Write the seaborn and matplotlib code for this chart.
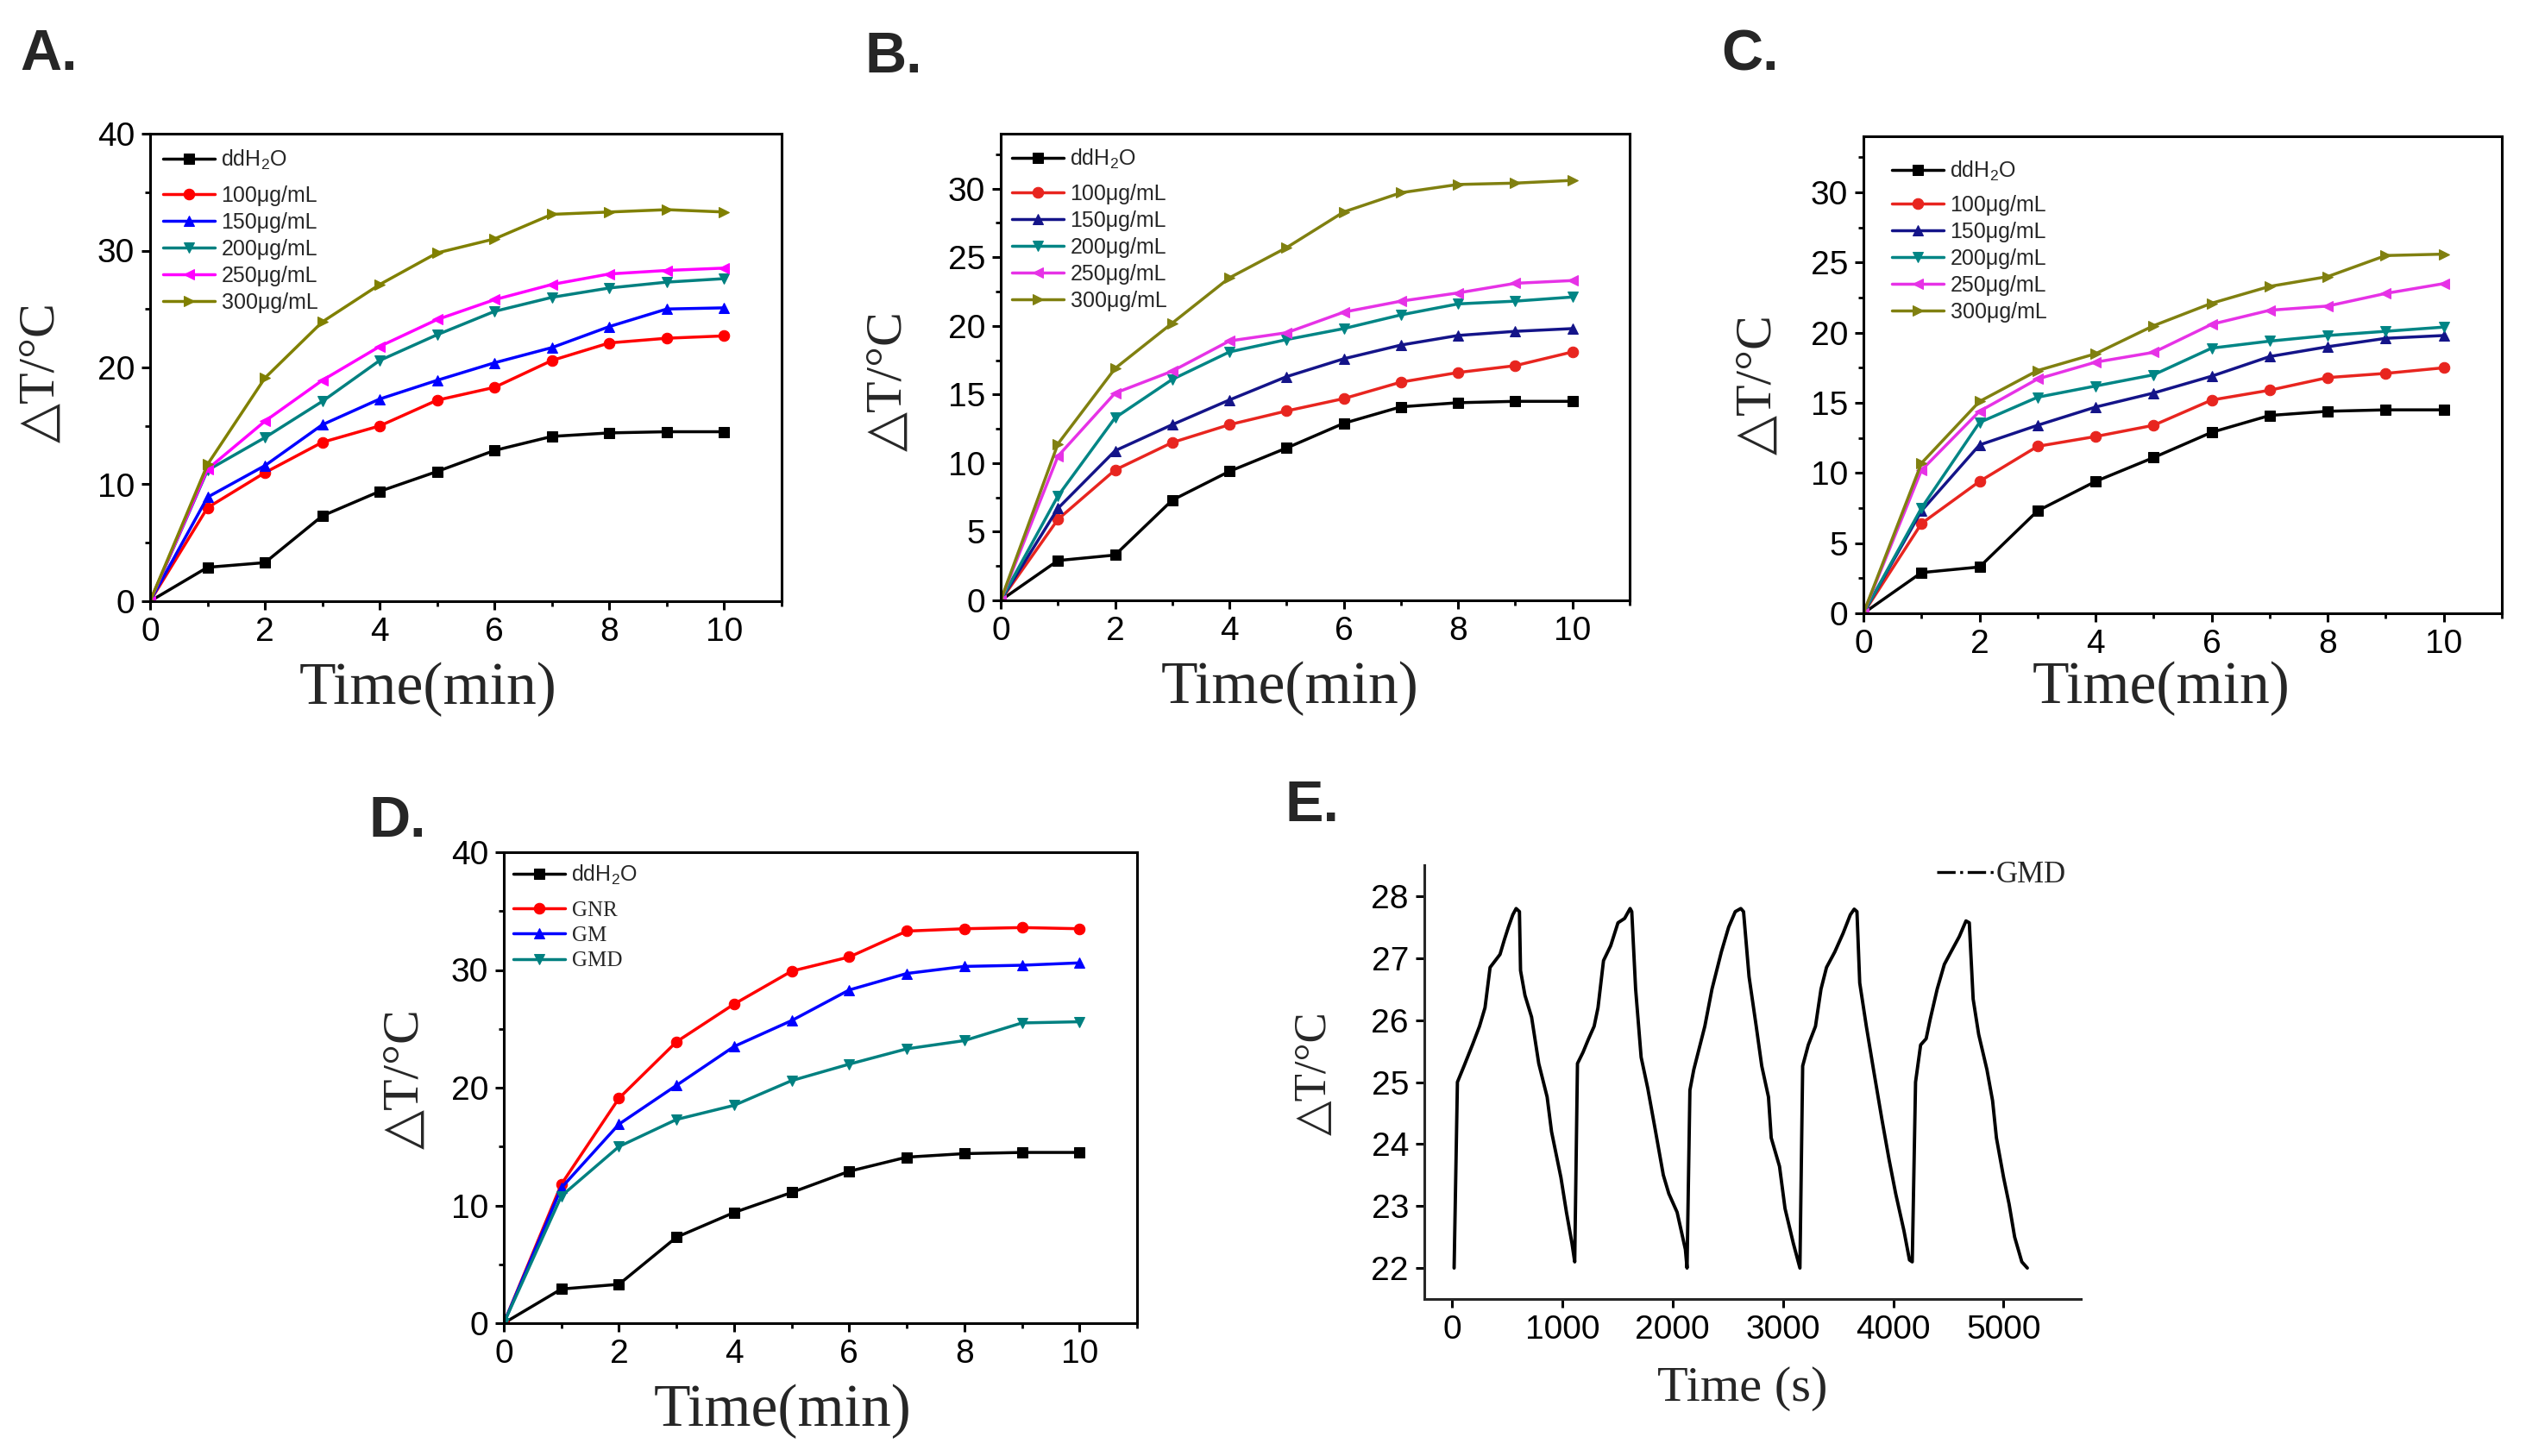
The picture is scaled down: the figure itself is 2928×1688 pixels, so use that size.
import matplotlib
matplotlib.use("Agg")
import matplotlib.pyplot as plt
from matplotlib.lines import Line2D
from matplotlib.ticker import MultipleLocator
import seaborn as sns

# ---- data ----
time_min = [0, 1, 2, 3, 4, 5, 6, 7, 8, 9, 10]

water = [0, 2.9, 3.3, 7.3, 9.4, 11.1, 12.9, 14.1, 14.4, 14.5, 14.5]

# A. GNR
a_100 = [0, 8.0, 11.0, 13.6, 15.0, 17.2, 18.3, 20.6, 22.1, 22.5, 22.7]
a_150 = [0, 8.9, 11.6, 15.1, 17.3, 18.9, 20.4, 21.7, 23.5, 25.0, 25.1]
a_200 = [0, 11.2, 14.0, 17.1, 20.6, 22.8, 24.8, 26.0, 26.8, 27.3, 27.6]
a_250 = [0, 11.3, 15.4, 18.9, 21.8, 24.1, 25.8, 27.1, 28.0, 28.3, 28.5]
a_300 = [0, 11.7, 19.1, 23.9, 27.1, 29.8, 31.0, 33.1, 33.3, 33.5, 33.3]

# B. GM
b_100 = [0, 5.9, 9.5, 11.5, 12.8, 13.8, 14.7, 15.9, 16.6, 17.1, 18.1]
b_150 = [0, 6.7, 10.9, 12.8, 14.6, 16.3, 17.6, 18.6, 19.3, 19.6, 19.8]
b_200 = [0, 7.6, 13.3, 16.1, 18.1, 19.0, 19.8, 20.8, 21.6, 21.8, 22.1]
b_250 = [0, 10.5, 15.1, 16.7, 18.9, 19.5, 21.0, 21.8, 22.4, 23.1, 23.3]
b_300 = [0, 11.4, 16.9, 20.2, 23.5, 25.7, 28.3, 29.7, 30.3, 30.4, 30.6]

# C. GMD
c_100 = [0, 6.4, 9.4, 11.9, 12.6, 13.4, 15.2, 15.9, 16.8, 17.1, 17.5]
c_150 = [0, 7.3, 12.0, 13.4, 14.7, 15.7, 16.9, 18.3, 19.0, 19.6, 19.8]
c_200 = [0, 7.5, 13.6, 15.4, 16.2, 17.0, 18.9, 19.4, 19.8, 20.1, 20.4]
c_250 = [0, 10.2, 14.4, 16.7, 17.9, 18.6, 20.6, 21.6, 21.9, 22.8, 23.5]
c_300 = [0, 10.7, 15.1, 17.3, 18.5, 20.5, 22.1, 23.3, 24.0, 25.5, 25.6]

# D. comparison at 300 ug/mL
d_gnr = [0, 11.8, 19.1, 23.9, 27.1, 29.9, 31.1, 33.3, 33.5, 33.6, 33.5]
d_gm = [0, 11.5, 16.9, 20.2, 23.5, 25.7, 28.3, 29.7, 30.3, 30.4, 30.6]
d_gmd = [0, 10.8, 15.0, 17.3, 18.5, 20.6, 22.0, 23.3, 24.0, 25.5, 25.6]

conc_labels = ["ddH$_2$O", "100μg/mL", "150μg/mL", "200μg/mL", "250μg/mL", "300μg/mL"]
d_labels = ["ddH$_2$O", "GNR", "GM", "GMD"]

# E. on/off cycles of GMD
e_time = [20, 50, 110, 186, 250, 300, 346, 436, 476, 512, 552, 582, 612, 622, 662, 722, 787, 863, 903, 988,
          1038, 1088, 1113,
          1138, 1188, 1239, 1289, 1324, 1374, 1439, 1505, 1565, 1615, 1630, 1665, 1715, 1775, 1841, 1916,
          1966, 2041, 2116, 2131,
          2157, 2192, 2242, 2292, 2357, 2442, 2508, 2568, 2618, 2643, 2693, 2758, 2808, 2869, 2894, 2969,
          3019, 3094, 3154,
          3179, 3230, 3295, 3345, 3395, 3470, 3545, 3611, 3646, 3671, 3696, 3756, 3821, 3897, 3962, 4022,
          4097, 4147, 4172,
          4202, 4248, 4298, 4333, 4398, 4463, 4523, 4599, 4659, 4689, 4724, 4774, 4849, 4900, 4935, 5000,
          5050, 5100, 5165, 5215]
e_temp = [22.0, 25.0, 25.26, 25.6, 25.9, 26.2, 26.85, 27.06, 27.3, 27.5, 27.7, 27.8, 27.75, 26.8, 26.4,
          26.05, 25.3, 24.76, 24.2, 23.46, 22.9, 22.4, 22.1,
          25.3, 25.48, 25.7, 25.9, 26.2, 26.96, 27.2, 27.57, 27.64, 27.8, 27.75, 26.5, 25.4, 24.9, 24.25,
          23.5, 23.2, 22.9, 22.3, 22.0,
          24.87, 25.2, 25.55, 25.9, 26.5, 27.1, 27.5, 27.75, 27.8, 27.75, 26.7, 25.9, 25.26, 24.76, 24.1,
          23.64, 22.96, 22.4, 22.0,
          25.26, 25.6, 25.9, 26.5, 26.85, 27.1, 27.4, 27.7, 27.79, 27.75, 26.6, 25.9, 25.2, 24.4, 23.75,
          23.2, 22.6, 22.13, 22.1,
          25.0, 25.6, 25.7, 26.0, 26.5, 26.9, 27.1, 27.35, 27.6, 27.57, 26.34, 25.77, 25.2, 24.7, 24.1,
          23.46, 23.03, 22.5, 22.1, 22.0]

# ---- styling ----
sns.set_style("ticks")
plt.rcParams["font.family"] = ["Liberation Sans", "DejaVu Sans"]
plt.rcParams["mathtext.default"] = "regular"
plt.rcParams["axes.linewidth"] = 2.2
for k in ["xtick", "ytick"]:
    plt.rcParams[k + ".direction"] = "out"
    plt.rcParams[k + ".major.width"] = 2.2
    plt.rcParams[k + ".minor.width"] = 2.0
    plt.rcParams[k + ".major.size"] = 7
    plt.rcParams[k + ".minor.size"] = 4.5
    plt.rcParams[k + ".labelsize"] = 28
    plt.rcParams[k + ".color"] = "black"

serif = ["Liberation Serif", "DejaVu Serif", "DejaVu Sans"]
markers = ["s", "o", "^", "v", "<", ">"]
colors_a = ["black", "#FF0000", "#0000FF", "#008080", "#FF00FF", "#808000"]
colors_bc = ["black", "#E8251F", "#141489", "#008585", "#E632E6", "#808010"]

W, H = 2928, 1688
fig = plt.figure(figsize=(W / 100, H / 100), dpi=100)


def px_axes(l, t, r, b):
    ax = fig.add_axes([l / W, 1 - b / H, (r - l) / W, (b - t) / H])
    ax.px_size = (r - l, b - t)
    return ax


def time_panel(ax, series, labels, colors, ytop, ymaj, ymin, xl, yl, leg_pos, leg_serif=False):
    for vals, lab, col, mk in zip(series, labels, colors, markers):
        sns.lineplot(x=time_min, y=vals, ax=ax, color=col, marker=mk, markersize=9,
                     markeredgecolor=col, linewidth=2.5, label=lab)
    ax.set_xlim(0, 11)
    ax.set_ylim(0, ytop)
    ax.xaxis.set_major_locator(MultipleLocator(2))
    ax.xaxis.set_minor_locator(MultipleLocator(1))
    ax.yaxis.set_major_locator(MultipleLocator(ymaj))
    ax.yaxis.set_minor_locator(MultipleLocator(ymin))
    ax.tick_params(top=False, right=False, which="both")
    ax.tick_params(axis="both", pad=6)
    ax.set_xlabel("Time(min)", family=serif, fontsize=50)
    ax.set_ylabel("△T/°C", family=serif, fontsize=43)
    ax.xaxis.set_label_coords(*xl)
    ax.yaxis.set_label_coords(*yl)

    # legend in two blocks: the water row sits a bit apart from the rest
    w, h = ax.px_size
    dx, c1, c2 = leg_pos
    handles, labs = ax.get_legend_handles_labels()
    opts = dict(loc="upper left", frameon=False, fontsize=18, handlelength=2.4,
                handletextpad=0.3, labelspacing=0.28, borderpad=0, borderaxespad=0)
    leg1 = ax.legend(handles[:1], labs[:1], bbox_to_anchor=(dx / w, 1 - (c1 - 12) / h), **opts)
    ax.add_artist(leg1)
    leg2 = ax.legend(handles[1:], labs[1:], bbox_to_anchor=(dx / w, 1 - (c2 - 12) / h), **opts)
    if leg_serif:
        for t in leg2.get_texts():
            t.set_family(serif)
    for sp in ax.spines.values():
        sp.set_visible(True)
        sp.set_color("black")


# A
ax_a = px_axes(174, 155, 906, 697)
time_panel(ax_a, [water, a_100, a_150, a_200, a_250, a_300], conc_labels, colors_a,
           40, 10, 5, (0.44, -0.13), (-0.135, 0.49), (15, 29, 72))

# B
ax_b = px_axes(1160, 155, 1889, 696)
time_panel(ax_b, [water, b_100, b_150, b_200, b_250, b_300], conc_labels, colors_bc,
           34, 5, 2.5, (0.46, -0.13), (-0.14, 0.47), (13, 28, 70))

# C
ax_c = px_axes(2160, 158, 2900, 711)
time_panel(ax_c, [water, c_100, c_150, c_200, c_250, c_300], conc_labels, colors_bc,
           34, 5, 2.5, (0.466, -0.1), (-0.128, 0.48), (33, 39, 80))

# D
ax_d = px_axes(584, 988, 1318, 1534)
time_panel(ax_d, [water, d_gnr, d_gm, d_gmd], d_labels,
           ["black", "#FF0000", "#0000FF", "#008080"], 40, 10, 5,
           (0.44, -0.13), (-0.118, 0.52), (11, 25, 68), leg_serif=True)

# E
ax_e = px_axes(1651, 1003, 2412, 1506)
sns.lineplot(x=e_time, y=e_temp, ax=ax_e, color="black", linewidth=2.8)
ax_e.set_xlim(-250, 5700)
ax_e.set_ylim(21.5, 28.5)
ax_e.xaxis.set_major_locator(MultipleLocator(1000))
ax_e.yaxis.set_major_locator(MultipleLocator(1))
ax_e.tick_params(top=False, right=False, pad=6)
for side in ["top", "right"]:
    ax_e.spines[side].set_visible(False)
ax_e.set_xlabel("Time (s)", family=serif, fontsize=42)
ax_e.set_ylabel("△T/°C", family=serif, fontsize=38)
ax_e.xaxis.set_label_coords(0.485, -0.155)
ax_e.yaxis.set_label_coords(-0.137, 0.52)
ax_e.legend(handles=[Line2D([], [], color="black", ls="-.", lw=2.4)], labels=["GMD"],
            loc="upper left", bbox_to_anchor=(0.78, 1.01), frameon=False,
            prop={"family": serif, "size": 25}, handlelength=1.9, handletextpad=0.1,
            borderpad=0, borderaxespad=0)

# panel letters
for lab, x, y in [("A.", 23, 81), ("B.", 1003, 84), ("C.", 1995, 81), ("D.", 428, 970), ("E.", 1489, 952)]:
    fig.text(x / W, 1 - y / H, lab, fontsize=48, fontweight="bold", ha="left", va="baseline")

fig.savefig("out.png", dpi=100, facecolor="white")
